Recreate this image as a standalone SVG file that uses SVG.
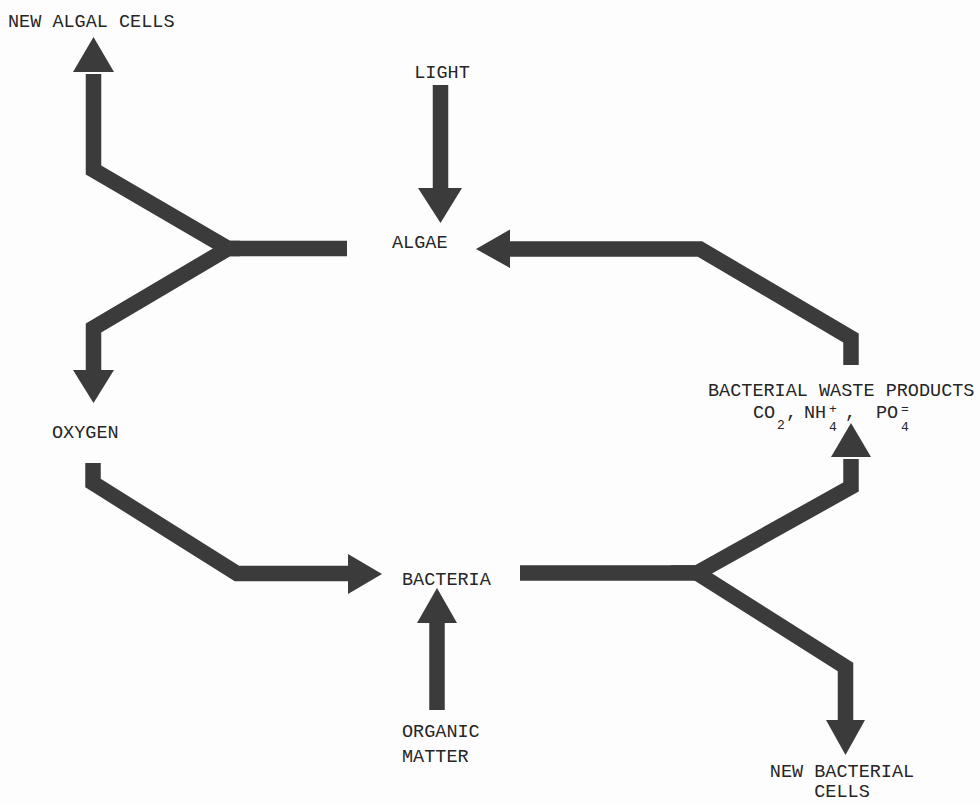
<svg xmlns="http://www.w3.org/2000/svg" width="980" height="803" viewBox="0 0 980 803">
<style>
.t{font-family:"Liberation Mono","Courier New",monospace;font-size:18.5px;fill:#262626}
.sm{font-size:13px}
.s{fill:none;stroke:#3b3b3b;stroke-width:15.5;stroke-linejoin:miter;stroke-miterlimit:10;stroke-linecap:butt}
.h{fill:#3b3b3b}
</style>
<rect width="980" height="803" fill="#fdfdfd"/>
<g id="connectors">
<g id="light-to-algae"><path class="s" d="M440.5,85 V190"/><polygon class="h" points="418,188 462,188 440.5,223"/></g>
<g id="waste-to-algae"><path class="s" d="M851,365 V338 L700,249 H508"/><polygon class="h" points="510,229.5 510,268 476,249"/></g>
<g id="algae-to-newalgal"><path class="s" d="M347,248.5 H228 L93.5,170 V74"/><polygon class="h" points="73,72 114,72 93.5,37"/></g>
<g id="algae-to-oxygen"><path class="s" d="M240,248.5 H228 L93.5,328 V372"/><polygon class="h" points="73,370 114,370 93.5,403"/></g>
<g id="oxygen-to-bacteria"><path class="s" d="M93,463 V483 L237,573.5 H350"/><polygon class="h" points="348,554 348,594 382,574"/></g>
<g id="organic-to-bacteria"><path class="s" d="M437,710 V621"/><polygon class="h" points="417,623 457,623 437,588"/></g>
<g id="bacteria-to-waste"><path class="s" d="M520,573 H697 L851,487 V459"/><polygon class="h" points="831,457 871,457 851,423"/></g>
<g id="bacteria-to-newbact"><path class="s" d="M710,573 H697 L845.5,667 V722"/><polygon class="h" points="826,720 865,720 845.5,755"/></g>
</g>
<g id="new-algal-cells"><text class="t" x="8" y="27">NEW ALGAL CELLS</text></g>
<g id="light"><text class="t" x="442" y="78" text-anchor="middle">LIGHT</text></g>
<g id="algae"><text class="t" x="392" y="248">ALGAE</text></g>
<g id="oxygen"><text class="t" x="52" y="438">OXYGEN</text></g>
<g id="bacteria"><text class="t" x="402" y="585">BACTERIA</text></g>
<g id="organic-matter"><text class="t" x="402" y="737">ORGANIC</text><text class="t" x="402" y="762">MATTER</text></g>
<g id="waste-products">
<text class="t" x="708" y="396">BACTERIAL WASTE PRODUCTS</text>
<text class="t" x="753" y="418">CO</text>
<text class="t sm" x="777" y="429">2</text>
<text class="t" x="786" y="418">,</text>
<text class="t" x="804" y="418">NH</text>
<text class="t sm" x="829" y="413">+</text>
<text class="t sm" x="829" y="431">4</text>
<text class="t" x="845" y="418">,</text>
<text class="t" x="876" y="418">PO</text>
<text class="t sm" x="901" y="413">=</text>
<text class="t sm" x="901" y="431">4</text>
</g>
<g id="new-bacterial-cells"><text class="t" x="842" y="777" text-anchor="middle">NEW BACTERIAL</text><text class="t" x="842" y="797" text-anchor="middle">CELLS</text></g>
</svg>
